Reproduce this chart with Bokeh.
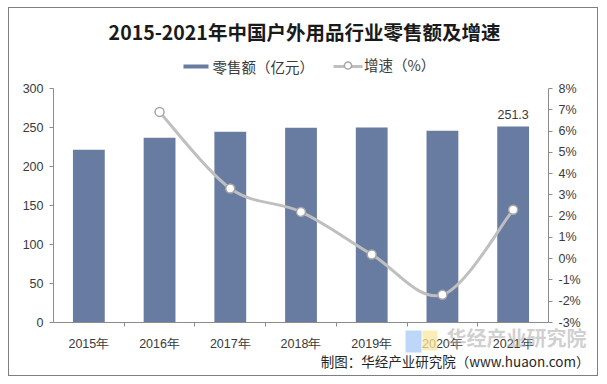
from bokeh.plotting import figure
from bokeh.models import (Range1d, LinearAxis, FixedTicker, PrintfTickFormatter,
                          Label, BoxAnnotation, Legend, LegendItem)
from bokeh.core.properties import value
from bokeh.embed import file_html
from bokeh.resources import INLINE

# ---- data ----
years = ["2015年", "2016年", "2017年", "2018年", "2019年", "2020年", "2021年"]
sales = [221.6, 236.9, 244.6, 249.8, 250.1, 245.7, 251.3]      # 零售额（亿元）
growth = [None, 6.9, 3.3, 2.2, 0.2, -1.7, 2.3]                   # 增速（%）
left_ticks = [0, 50, 100, 150, 200, 250, 300]
right_ticks = [-3, -2, -1, 0, 1, 2, 3, 4, 5, 6, 7, 8]

TITLE = "2015-2021年中国户外用品行业零售额及增速"
SERIES1 = "零售额（亿元）"
SERIES2 = "增速（%）"
SOURCE = "制图：华经产业研究院（www.huaon.com）"
WATERMARK = "华经产业研究院"

BAR = "#687CA1"
LINE = "#BFBFBF"
AXIS = "#8C8C8C"
TXT = "#3A3A3A"
CJK = "Noto Sans CJK SC"
LAT = "Liberation Sans"

# ---- canvas / plot-area geometry (pixels) ----
W, H = 590, 369
PL, PR, PT, PB = 44, 51, 80, 55      # plot area inset inside the canvas

n = len(years)
xs = [i + 0.5 for i in range(n)]

ppx = (W - PL - PR) / n
lo, hi = left_ticks[0], left_ticks[-1]
ppy = (H - PT - PB) / (hi - lo)
rlo, rhi = right_ticks[0], right_ticks[-1]
ppy2 = (H - PT - PB) / (rhi - rlo)

p = figure(width=W, height=H, output_backend="svg", toolbar_location=None, title=None,
           x_range=Range1d(-PL / ppx, n + PR / ppx),
           y_range=Range1d(lo - PB / ppy, hi + PT / ppy),
           min_border=0, min_border_left=0, min_border_right=0,
           min_border_top=0, min_border_bottom=0)
p.styles = {"border": "1px solid #7F7F7F", "margin-left": "8px", "margin-top": "7px"}
p.outline_line_color = None
p.xgrid.grid_line_color = None
p.ygrid.grid_line_color = None
p.background_fill_color = "white"
p.border_fill_color = "white"
p.extra_y_ranges = {"pct": Range1d(rlo - PB / ppy2, rhi + PT / ppy2)}

# axes
xa = p.xaxis[0]
xa.fixed_location = lo
xa.bounds = (0, n)
xa.ticker = FixedTicker(ticks=xs, minor_ticks=list(range(1, n)))
xa.major_label_overrides = {x: y for x, y in zip(xs, years)}
xa.major_tick_out = 0
xa.major_tick_in = 0
xa.minor_tick_out = 4
xa.minor_tick_in = 0
xa.minor_tick_line_color = AXIS
xa.axis_line_color = AXIS
xa.major_label_standoff = 10
xa.major_label_text_font = LAT
xa.major_label_text_font_size = "12.5px"
xa.major_label_text_color = TXT

ya = p.yaxis[0]
ya.fixed_location = 0
ya.bounds = (lo, hi)
ya.ticker = FixedTicker(ticks=left_ticks)
ya.major_tick_out = 4
ya.major_tick_in = 0
ya.minor_tick_line_color = None
ya.axis_line_color = AXIS
ya.major_tick_line_color = AXIS
ya.major_label_standoff = 6
ya.major_label_text_font = LAT
ya.major_label_text_font_size = "12.5px"
ya.major_label_text_color = TXT

ra = LinearAxis(y_range_name="pct", ticker=FixedTicker(ticks=right_ticks),
                formatter=PrintfTickFormatter(format="%d%%"))
ra.fixed_location = n
ra.bounds = (rlo, rhi)
ra.major_tick_out = 4
ra.major_tick_in = 0
ra.minor_tick_line_color = None
ra.axis_line_color = AXIS
ra.major_tick_line_color = AXIS
ra.major_label_standoff = 6
ra.major_label_text_font = LAT
ra.major_label_text_font_size = "12.5px"
ra.major_label_text_color = TXT
p.add_layout(ra, "right")

# bars
p.vbar(x=xs, top=sales, width=0.45, fill_color=BAR, line_color=None)

# data label for the last bar
p.text(x=[xs[-1]], y=[sales[-1]], text=[f"{sales[-1]}"], text_align="center",
       text_baseline="bottom", y_offset=-7, text_font=value(LAT),
       text_font_size="12.5px", text_color=TXT)

# smoothed growth line (Catmull-Rom style bezier through the data points)
gx = [x for x, g in zip(xs, growth) if g is not None]
gy = [g for g in growth if g is not None]
m = len(gx)
x0, y0, x1, y1, cx0, cy0, cx1, cy1 = [], [], [], [], [], [], [], []
for i in range(m - 1):
    pa = i - 1 if i > 0 else i
    pd = i + 2 if i + 2 < m else i + 1
    x0.append(gx[i]); y0.append(gy[i]); x1.append(gx[i + 1]); y1.append(gy[i + 1])
    cx0.append(gx[i] + (gx[i + 1] - gx[pa]) / 6)
    cy0.append(gy[i] + (gy[i + 1] - gy[pa]) / 6)
    cx1.append(gx[i + 1] - (gx[pd] - gx[i]) / 6)
    cy1.append(gy[i + 1] - (gy[pd] - gy[i]) / 6)
p.bezier(x0=x0, y0=y0, x1=x1, y1=y1, cx0=cx0, cy0=cy0, cx1=cx1, cy1=cy1,
         line_color=LINE, line_width=3, y_range_name="pct")
dots = p.scatter(x=gx, y=gy, size=9, marker="circle", fill_color="white",
                 line_color="#A6A6A6", line_width=1.5, y_range_name="pct")


def sbox(l, r, b, t, **kw):
    return BoxAnnotation(left=l, right=r, bottom=b, top=t,
                         left_units="screen", right_units="screen",
                         bottom_units="screen", top_units="screen",
                         line_color=None, **kw)


# title
p.add_layout(Label(x=295, y=346, x_units="screen", y_units="screen", text=TITLE,
                   text_font=CJK, text_font_style="bold", text_font_size="19.5px",
                   text_color="#1A1A1A", text_align="center", text_baseline="middle"))

# legend
p.add_layout(sbox(174, 199, 309, 313, fill_color=BAR, fill_alpha=1))
p.add_layout(Label(x=203, y=311, x_units="screen", y_units="screen", text=SERIES1,
                   text_font=CJK, text_font_size="14.5px", text_color=TXT,
                   text_align="left", text_baseline="middle"))
p.add_layout(sbox(324, 353, 309.5, 312.5, fill_color=LINE, fill_alpha=1))
legend = Legend(items=[LegendItem(label=SERIES2, renderers=[dots])],
                location=(324, 302), orientation="horizontal",
                glyph_width=29, glyph_height=18, label_height=18,
                label_standoff=2, padding=0, margin=0, spacing=0,
                border_line_color=None, background_fill_alpha=0,
                label_text_font=CJK, label_text_font_size="14.5px",
                label_text_color=TXT)
p.add_layout(legend, "center")

# watermark logo + text
p.add_layout(sbox(396, 412, 25, 47, fill_color="#A6C9F4", fill_alpha=0.75))
p.add_layout(sbox(413, 428, 27, 47, fill_color="#F8E7A0", fill_alpha=0.75))
p.add_layout(Label(x=507, y=40, x_units="screen", y_units="screen", text=WATERMARK,
                   text_font=CJK, text_font_style="bold", text_font_size="20px",
                   text_color="#A8A8A8", text_alpha=0.55, text_align="center",
                   text_baseline="middle"))

# source
p.add_layout(Label(x=580, y=17, x_units="screen", y_units="screen", text=SOURCE,
                   text_font=CJK, text_font_size="13.5px", text_color="#262626",
                   text_align="right", text_baseline="middle"))

open("out.html", "w").write(file_html(p, INLINE))
